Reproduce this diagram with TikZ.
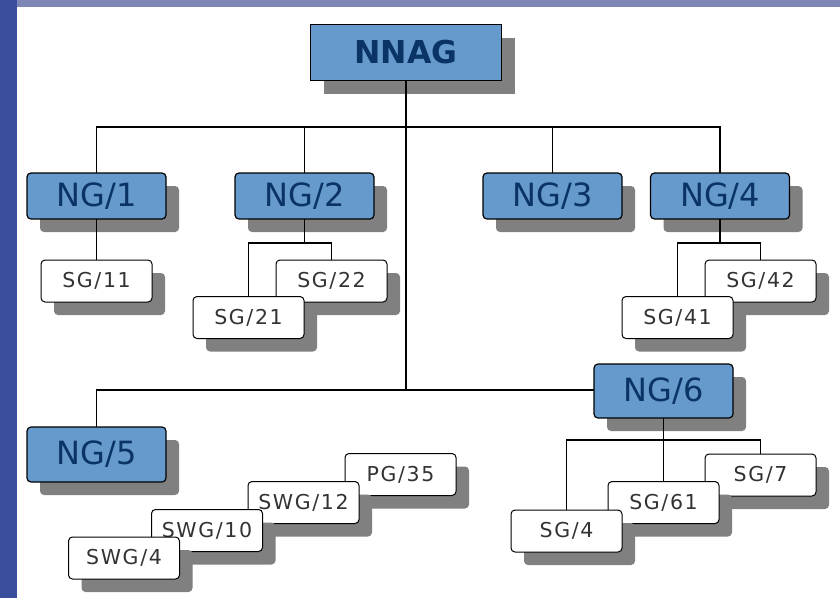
\documentclass[tikz,border=0pt]{standalone}
\usepackage{fontspec}
\usetikzlibrary{shadows}
\newfontfamily\ngfont{DejaVu Sans}
\newfontfamily\sgfont[LetterSpace=8]{DejaVu Sans}
\definecolor{boxblue}{HTML}{6699CC}
\definecolor{navy}{HTML}{0A3366}
\definecolor{shadowgray}{HTML}{808080}
\definecolor{leftblue}{HTML}{3A4E9C}
\definecolor{topblue}{HTML}{7E86B6}
\tikzset{
  shad/.style={drop shadow={shadow xshift=13pt,shadow yshift=-13pt,fill=shadowgray,opacity=1}},
  topbox/.style={shad,draw=black,line width=1.3pt,fill=boxblue,minimum width=191pt,minimum height=56pt,inner sep=0pt,outer sep=0pt,text=navy,font=\ngfont\bfseries\fontsize{31.5}{34}\selectfont},
  ngbox/.style={shad,draw=black,line width=1.2pt,fill=boxblue,rounded corners=4pt,minimum width=139pt,minimum height=46pt,inner sep=0pt,outer sep=0pt,text=navy,font=\ngfont\fontsize{32}{36}\selectfont},
  ngtall/.style={ngbox,minimum height=55pt},
  sgbox/.style={shad,draw=black,line width=1pt,fill=white,rounded corners=4pt,minimum width=111pt,minimum height=42pt,inner sep=0pt,outer sep=0pt,text=black!80,font=\sgfont\fontsize{20.5}{22}\selectfont},
  conn/.style={draw=black,line width=1.2pt}
}
\begin{document}
\begin{tikzpicture}[x=1pt,y=1pt]
\useasboundingbox (0,0) rectangle (840,-598);
% background
\fill[leftblue] (0,0) rectangle (17,-598);
\fill[topblue] (17,0) rectangle (840,-7);
\fill[white] (17,-7) rectangle (840,-598);
% nodes
\node[topbox] (NNAG) at (406,-52.5) {NNAG};
\node[ngbox] (NG1) at (96.5,-196) {NG/1};
\node[ngbox] (NG2) at (304.5,-196) {NG/2};
\node[ngbox] (NG3) at (552.5,-196) {NG/3};
\node[ngbox] (NG4) at (720,-196) {NG/4};
\node[ngtall] (NG5) at (96.5,-454.5) {NG/5};
\node[ngtall,minimum height=54pt] (NG6) at (663.5,-391) {NG/6};
\node[sgbox] (SG11) at (96.5,-281) {SG/11};
\node[sgbox] (SG22) at (331.5,-281) {SG/22};
\node[sgbox] (SG21) at (248.5,-317.5) {SG/21};
\node[sgbox] (SG42) at (760.5,-281) {SG/42};
\node[sgbox] (SG41) at (677.5,-317.5) {SG/41};
\node[sgbox] (SG7) at (760.5,-475) {SG/7};
\node[sgbox] (SG61) at (663.5,-502.5) {SG/61};
\node[sgbox] (SG4) at (566.5,-531) {SG/4};
\node[sgbox] (PG35) at (400.5,-474.5) {PG/35};
\node[sgbox] (SWG12) at (303.5,-502.5) {SWG/12};
\node[sgbox] (SWG10) at (207,-530.5) {SWG/10};
\node[sgbox] (SWG4) at (124,-558) {SWG/4};
% junction coordinates
\coordinate (b1) at (406,-127);
\coordinate (b2) at (406,-390);
\coordinate (c2) at (304.5,-243);
\coordinate (c4) at (720,-243);
\coordinate (c6) at (663.5,-440);
% connectors
\draw[conn] (NNAG.south) -- (b2);
\draw[conn] (NG1.north) |- (b1) -| (NG4.north);
\draw[conn] (NG2.north) -- (NG2.north |- b1);
\draw[conn] (NG3.north) -- (NG3.north |- b1);
\draw[conn] (NG5.north) |- (b2) -- (NG6.west |- b2);
\draw[conn] (NG1.south) -- (SG11.north);
\draw[conn] (NG2.south) -- (c2);
\draw[conn] (SG21.north) |- (c2) -| (SG22.north);
\draw[conn] (NG4.south) -- (c4);
\draw[conn] (SG41.north) |- (c4) -| (SG42.north);
\draw[conn] (NG6.south) -- (SG61.north);
\draw[conn] (SG4.north) |- (c6) -| (SG7.north);
\end{tikzpicture}
\end{document}
